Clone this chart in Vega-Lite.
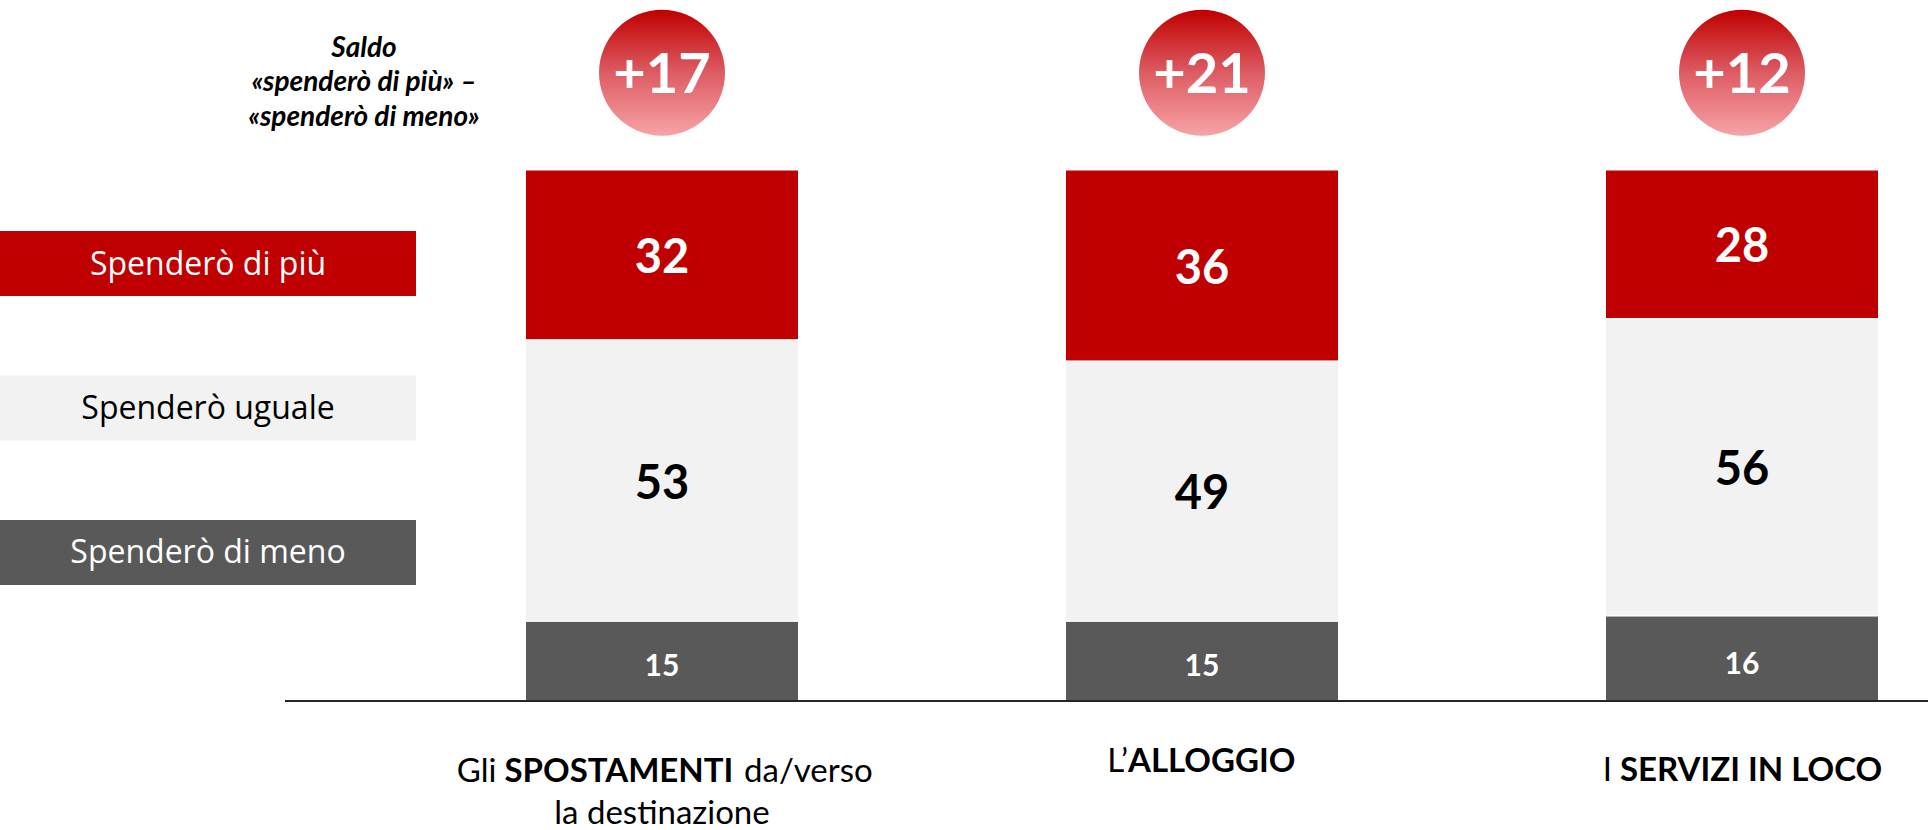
{
  "$schema": "https://vega.github.io/schema/vega-lite/v6.json",
  "width": 1928,
  "height": 830,
  "autosize": {"type": "fit", "contains": "padding"},
  "padding": 0,
  "background": "white",
  "config": {"view": {"stroke": null}},
  "datasets": {
    "risposte": [
      {"cat": "Gli SPOSTAMENTI da/verso la destinazione", "resp": "Spenderò di più", "value": 32},
      {"cat": "Gli SPOSTAMENTI da/verso la destinazione", "resp": "Spenderò uguale", "value": 53},
      {"cat": "Gli SPOSTAMENTI da/verso la destinazione", "resp": "Spenderò di meno", "value": 15},
      {"cat": "L’ALLOGGIO", "resp": "Spenderò di più", "value": 36},
      {"cat": "L’ALLOGGIO", "resp": "Spenderò uguale", "value": 49},
      {"cat": "L’ALLOGGIO", "resp": "Spenderò di meno", "value": 15},
      {"cat": "I SERVIZI IN LOCO", "resp": "Spenderò di più", "value": 28},
      {"cat": "I SERVIZI IN LOCO", "resp": "Spenderò uguale", "value": 56},
      {"cat": "I SERVIZI IN LOCO", "resp": "Spenderò di meno", "value": 16}
    ],
    "saldo": [
      {"cat": "Gli SPOSTAMENTI da/verso la destinazione", "saldo": 17},
      {"cat": "L’ALLOGGIO", "saldo": 21},
      {"cat": "I SERVIZI IN LOCO", "saldo": 12}
    ],
    "legenda": [
      {"resp": "Spenderò di più"},
      {"resp": "Spenderò uguale"},
      {"resp": "Spenderò di meno"}
    ],
    "intestazione": [
      {"testo": "Saldo\n«spenderò di più» –\n«spenderò di meno»"}
    ],
    "etichette": [
      {"cat": "Gli SPOSTAMENTI da/verso la destinazione", "pre": "Gli", "bold": "SPOSTAMENTI", "post": "da/verso", "riga2": "la destinazione"},
      {"cat": "L’ALLOGGIO", "pre": "L’", "bold": "ALLOGGIO", "post": "", "riga2": ""},
      {"cat": "I SERVIZI IN LOCO", "pre": "I", "bold": "SERVIZI IN LOCO", "post": "", "riga2": ""}
    ]
  },
  "resolve": {"scale": {"x": "independent", "y": "independent", "color": "independent"}},
  "layer": [
    {
      "data": {"name": "legenda"},
      "mark": {"type": "rect"},
      "encoding": {
        "x": {"datum": 0, "type": "quantitative", "scale": {"domain": [0, 1], "range": [0, 416]}, "axis": null},
        "x2": {"datum": 1},
        "y": {"field": "resp", "type": "nominal", "scale": {"type": "band", "domain": ["Spenderò di più", "Spenderò uguale", "Spenderò di meno"], "range": [231, 585], "paddingInner": 0.55, "paddingOuter": 0}, "axis": null},
        "color": {"field": "resp", "type": "nominal", "scale": {"domain": ["Spenderò di più", "Spenderò uguale", "Spenderò di meno"], "range": ["#C00000", "#F2F2F2", "#595959"]}, "legend": null}
      }
    },
    {
      "data": {"name": "legenda"},
      "mark": {"type": "text", "font": "Open Sans", "fontSize": 32, "align": "center", "baseline": "middle", "dy": 1},
      "encoding": {
        "x": {"datum": 0.5, "type": "quantitative", "scale": {"domain": [0, 1], "range": [0, 416]}, "axis": null},
        "y": {"field": "resp", "type": "nominal", "bandPosition": 0.5, "scale": {"type": "band", "domain": ["Spenderò di più", "Spenderò uguale", "Spenderò di meno"], "range": [231, 585], "paddingInner": 0.55, "paddingOuter": 0}, "axis": null},
        "text": {"field": "resp"},
        "color": {"condition": {"test": "datum.resp === 'Spenderò uguale'", "value": "#000000"}, "value": "#FFFFFF"}
      }
    },
    {
      "data": {"name": "intestazione"},
      "mark": {"type": "text", "font": "Lato", "fontSize": 28, "fontWeight": "bold", "fontStyle": "italic", "align": "center", "baseline": "middle", "lineBreak": "\n", "lineHeight": 34.5, "color": "#000000"},
      "encoding": {
        "x": {"datum": 0.875, "type": "quantitative", "scale": {"domain": [0, 1], "range": [0, 416]}, "axis": null},
        "y": {"datum": 122.8, "type": "quantitative", "scale": {"domain": [0, 100], "range": [701, 170]}, "axis": null},
        "text": {"field": "testo"}
      }
    },
    {
      "data": {"name": "risposte"},
      "transform": [
        {"calculate": "indexof(['Spenderò di meno','Spenderò uguale','Spenderò di più'], datum.resp)", "as": "ord"},
        {"stack": "value", "groupby": ["cat"], "sort": [{"field": "ord", "order": "ascending"}], "as": ["v0", "v1"]}
      ],
      "mark": {"type": "bar", "stroke": "#FFFFFF", "strokeWidth": 1},
      "encoding": {
        "x": {"field": "cat", "type": "nominal", "scale": {"type": "band", "domain": ["Gli SPOSTAMENTI da/verso la destinazione", "L’ALLOGGIO", "I SERVIZI IN LOCO"], "range": [392, 2012], "paddingInner": 0.4944, "paddingOuter": 0.2472}, "axis": null},
        "y": {"field": "v0", "type": "quantitative", "scale": {"domain": [0, 100], "range": [701, 170]}, "axis": null},
        "y2": {"field": "v1"},
        "color": {"field": "resp", "type": "nominal", "scale": {"domain": ["Spenderò di più", "Spenderò uguale", "Spenderò di meno"], "range": ["#C00000", "#F2F2F2", "#595959"]}, "legend": null}
      }
    },
    {
      "data": {"name": "risposte"},
      "transform": [
        {"calculate": "indexof(['Spenderò di meno','Spenderò uguale','Spenderò di più'], datum.resp)", "as": "ord"},
        {"stack": "value", "groupby": ["cat"], "sort": [{"field": "ord", "order": "ascending"}], "as": ["v0", "v1"]},
        {"calculate": "(datum.v0 + datum.v1) / 2", "as": "mid"},
        {"filter": "datum.resp !== 'Spenderò di meno'"}
      ],
      "mark": {"type": "text", "font": "Lato", "fontSize": 47, "fontWeight": "bold", "align": "center", "baseline": "middle", "dy": 4},
      "encoding": {
        "x": {"field": "cat", "type": "nominal", "bandPosition": 0.5, "scale": {"type": "band", "domain": ["Gli SPOSTAMENTI da/verso la destinazione", "L’ALLOGGIO", "I SERVIZI IN LOCO"], "range": [392, 2012], "paddingInner": 0.4944, "paddingOuter": 0.2472}, "axis": null},
        "y": {"field": "mid", "type": "quantitative", "scale": {"domain": [0, 100], "range": [701, 170]}, "axis": null},
        "text": {"field": "value", "type": "quantitative"},
        "color": {"condition": {"test": "datum.resp === 'Spenderò uguale'", "value": "#000000"}, "value": "#FFFFFF"}
      }
    },
    {
      "data": {"name": "risposte"},
      "transform": [
        {"calculate": "indexof(['Spenderò di meno','Spenderò uguale','Spenderò di più'], datum.resp)", "as": "ord"},
        {"stack": "value", "groupby": ["cat"], "sort": [{"field": "ord", "order": "ascending"}], "as": ["v0", "v1"]},
        {"calculate": "(datum.v0 + datum.v1) / 2", "as": "mid"},
        {"filter": "datum.resp === 'Spenderò di meno'"}
      ],
      "mark": {"type": "text", "font": "Lato", "fontSize": 30, "fontWeight": "bold", "align": "center", "baseline": "middle", "dy": 6, "color": "#FFFFFF"},
      "encoding": {
        "x": {"field": "cat", "type": "nominal", "bandPosition": 0.5, "scale": {"type": "band", "domain": ["Gli SPOSTAMENTI da/verso la destinazione", "L’ALLOGGIO", "I SERVIZI IN LOCO"], "range": [392, 2012], "paddingInner": 0.4944, "paddingOuter": 0.2472}, "axis": null},
        "y": {"field": "mid", "type": "quantitative", "scale": {"domain": [0, 100], "range": [701, 170]}, "axis": null},
        "text": {"field": "value", "type": "quantitative"}
      }
    },
    {
      "data": {"name": "risposte"},
      "mark": {"type": "rule", "stroke": "#262626", "strokeWidth": 2},
      "encoding": {
        "x": {"datum": 0, "type": "quantitative", "scale": {"domain": [0, 1], "range": [285, 1928]}, "axis": null},
        "x2": {"datum": 1},
        "y": {"datum": 0, "type": "quantitative", "scale": {"domain": [0, 100], "range": [701, 170]}, "axis": null}
      }
    },
    {
      "data": {"name": "saldo"},
      "mark": {
        "type": "point", "shape": "circle", "filled": true, "size": 15876, "opacity": 1, "strokeWidth": 0,
        "fill": {"gradient": "linear", "x1": 0, "y1": 0, "x2": 0, "y2": 1, "stops": [{"offset": 0, "color": "#C00000"}, {"offset": 0.5, "color": "#DD5C63"}, {"offset": 1, "color": "#F7A3A6"}]}
      },
      "encoding": {
        "x": {"field": "cat", "type": "nominal", "bandPosition": 0.5, "scale": {"type": "band", "domain": ["Gli SPOSTAMENTI da/verso la destinazione", "L’ALLOGGIO", "I SERVIZI IN LOCO"], "range": [392, 2012], "paddingInner": 0.4944, "paddingOuter": 0.2472}, "axis": null},
        "y": {"datum": 118.3, "type": "quantitative", "scale": {"domain": [0, 100], "range": [701, 170]}, "axis": null}
      }
    },
    {
      "data": {"name": "saldo"},
      "mark": {"type": "text", "font": "Lato", "fontSize": 56, "fontWeight": "bold", "align": "center", "baseline": "middle", "dy": 3, "color": "#FFFFFF"},
      "encoding": {
        "x": {"field": "cat", "type": "nominal", "bandPosition": 0.5, "scale": {"type": "band", "domain": ["Gli SPOSTAMENTI da/verso la destinazione", "L’ALLOGGIO", "I SERVIZI IN LOCO"], "range": [392, 2012], "paddingInner": 0.4944, "paddingOuter": 0.2472}, "axis": null},
        "y": {"datum": 118.3, "type": "quantitative", "scale": {"domain": [0, 100], "range": [701, 170]}, "axis": null},
        "text": {"field": "saldo", "type": "quantitative", "format": "+d"}
      }
    },
    {
      "data": {"name": "etichette"},
      "transform": [{"filter": "datum.cat === 'Gli SPOSTAMENTI da/verso la destinazione'"}],
      "layer": [
        {
          "mark": {"type": "text", "font": "Lato", "fontSize": 33, "align": "right", "baseline": "middle", "dx": -165.5, "color": "#000000"},
          "encoding": {"text": {"field": "pre"}}
        },
        {
          "mark": {"type": "text", "font": "Lato", "fontSize": 33, "fontWeight": "bold", "align": "left", "baseline": "middle", "dx": -157.5, "color": "#000000"},
          "encoding": {"text": {"field": "bold"}}
        },
        {
          "mark": {"type": "text", "font": "Lato", "fontSize": 33, "align": "left", "baseline": "middle", "dx": 82, "color": "#000000"},
          "encoding": {"text": {"field": "post"}}
        },
        {
          "mark": {"type": "text", "font": "Lato", "fontSize": 33, "align": "center", "baseline": "middle", "dy": 42, "color": "#000000"},
          "encoding": {"text": {"field": "riga2"}}
        }
      ],
      "encoding": {
        "x": {"field": "cat", "type": "nominal", "bandPosition": 0.5, "scale": {"type": "band", "domain": ["Gli SPOSTAMENTI da/verso la destinazione", "L’ALLOGGIO", "I SERVIZI IN LOCO"], "range": [392, 2012], "paddingInner": 0.4944, "paddingOuter": 0.2472}, "axis": null},
        "y": {"datum": -13.4, "type": "quantitative", "scale": {"domain": [0, 100], "range": [701, 170]}, "axis": null}
      }
    },
    {
      "data": {"name": "etichette"},
      "transform": [{"filter": "datum.cat === 'L’ALLOGGIO'"}],
      "layer": [
        {
          "mark": {"type": "text", "font": "Lato", "fontSize": 33, "align": "right", "baseline": "middle", "dx": -74, "color": "#000000"},
          "encoding": {"text": {"field": "pre"}}
        },
        {
          "mark": {"type": "text", "font": "Lato", "fontSize": 33, "fontWeight": "bold", "align": "left", "baseline": "middle", "dx": -74, "color": "#000000"},
          "encoding": {"text": {"field": "bold"}}
        }
      ],
      "encoding": {
        "x": {"field": "cat", "type": "nominal", "bandPosition": 0.5, "scale": {"type": "band", "domain": ["Gli SPOSTAMENTI da/verso la destinazione", "L’ALLOGGIO", "I SERVIZI IN LOCO"], "range": [392, 2012], "paddingInner": 0.4944, "paddingOuter": 0.2472}, "axis": null},
        "y": {"datum": -11.5, "type": "quantitative", "scale": {"domain": [0, 100], "range": [701, 170]}, "axis": null}
      }
    },
    {
      "data": {"name": "etichette"},
      "transform": [{"filter": "datum.cat === 'I SERVIZI IN LOCO'"}],
      "layer": [
        {
          "mark": {"type": "text", "font": "Lato", "fontSize": 33, "align": "right", "baseline": "middle", "dx": -130, "color": "#000000"},
          "encoding": {"text": {"field": "pre"}}
        },
        {
          "mark": {"type": "text", "font": "Lato", "fontSize": 33, "fontWeight": "bold", "align": "left", "baseline": "middle", "dx": -122, "color": "#000000"},
          "encoding": {"text": {"field": "bold"}}
        }
      ],
      "encoding": {
        "x": {"field": "cat", "type": "nominal", "bandPosition": 0.5, "scale": {"type": "band", "domain": ["Gli SPOSTAMENTI da/verso la destinazione", "L’ALLOGGIO", "I SERVIZI IN LOCO"], "range": [392, 2012], "paddingInner": 0.4944, "paddingOuter": 0.2472}, "axis": null},
        "y": {"datum": -13.2, "type": "quantitative", "scale": {"domain": [0, 100], "range": [701, 170]}, "axis": null}
      }
    }
  ]
}
